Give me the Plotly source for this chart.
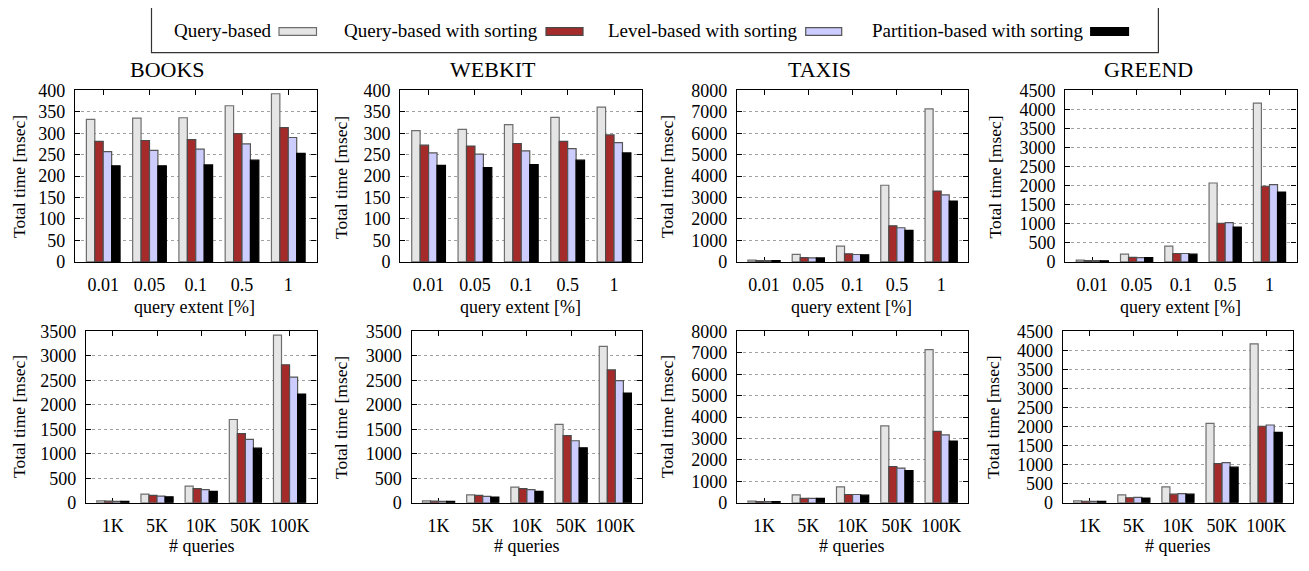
import plotly.graph_objects as go

W, H = 1293, 555  # figure size; page has an 8px body margin inside a 1309x571 window

series_names = ["Query-based", "Query-based with sorting", "Level-based with sorting", "Partition-based with sorting"]
extent_labels = ["0.01", "0.05", "0.1", "0.5", "1"]
queries_labels = ["1K", "5K", "10K", "50K", "100K"]
datasets = ["BOOKS", "WEBKIT", "TAXIS", "GREEND"]

# Top row: query extent [%]
books_extent = [[332, 335, 336, 364, 392], [281, 283, 285, 299, 313], [257, 260, 263, 275, 290], [224, 224, 226, 237, 253]]
webkit_extent = [[306, 309, 320, 337, 361], [272, 270, 276, 281, 296], [254, 251, 259, 264, 278], [225, 220, 227, 237, 254]]
taxis_extent = [[80, 350, 735, 3573, 7132], [60, 200, 375, 1681, 3303], [60, 190, 345, 1591, 3123], [55, 185, 330, 1471, 2838]]
greend_extent = [[45, 203, 414, 2069, 4162], [35, 118, 220, 1013, 1984], [35, 110, 220, 1030, 2026], [30, 110, 203, 912, 1832]]

# Bottom row: # queries
books_queries = [[40, 177, 341, 1701, 3421], [35, 151, 289, 1412, 2817], [30, 138, 269, 1294, 2567], [30, 125, 236, 1116, 2219]]
webkit_queries = [[40, 164, 322, 1602, 3191], [35, 151, 289, 1372, 2712], [30, 131, 269, 1267, 2495], [30, 118, 236, 1123, 2239]]
taxis_queries = [[80, 375, 750, 3588, 7147], [60, 210, 390, 1696, 3333], [60, 210, 390, 1621, 3168], [55, 210, 360, 1501, 2883]]
greend_queries = [[50, 211, 422, 2085, 4171], [42, 135, 228, 1030, 2009], [40, 143, 245, 1055, 2043], [40, 127, 228, 937, 1849]]

y_max_top = [400, 400, 8000, 4500]
y_dtick_top = [50, 50, 1000, 500]
y_max_bot = [3500, 3500, 8000, 4500]
y_dtick_bot = [500, 500, 1000, 500]

fills = ["#e5e5e5", "#a52a2a", "#ccccff", "#000000"]
outlines = ["#6e6e6e", "#4a4a4a", "#555555", "#000000"]

FONT = "Liberation Serif, Times New Roman, DejaVu Serif, serif"

# Plot areas in screenshot pixels (left, right), (top, bottom)
boxes_top = [(75, 316.5), (400.3, 642.3), (737, 968.2), (1065.3, 1296.5)]
boxes_bot = [(85.9, 316.5), (411.6, 642.3), (737, 968.2), (1062.8, 1293.1)]
top_y = (83, 261)
bot_y = (333, 511)

OFF = 8  # page body margin

fig = go.Figure()
layout = {}
annotations = []
shapes = []

def px_x(x):
    return (x - OFF) / W

def px_y(y):
    return 1 - (y - OFF) / H

panel_data = [
    (books_extent, webkit_extent, taxis_extent, greend_extent),
    (books_queries, webkit_queries, taxis_queries, greend_queries),
]

idx = 0
for row in range(2):
    cats = extent_labels if row == 0 else queries_labels
    boxes = boxes_top if row == 0 else boxes_bot
    yb = top_y if row == 0 else bot_y
    ymax = y_max_top if row == 0 else y_max_bot
    ydt = y_dtick_top if row == 0 else y_dtick_bot
    for col in range(4):
        idx += 1
        data = panel_data[row][col]
        xa = "x" if idx == 1 else f"x{idx}"
        ya = "y" if idx == 1 else f"y{idx}"
        for s in range(4):
            fig.add_trace(go.Bar(
                x=cats, y=data[s], name=series_names[s],
                marker=dict(color=fills[s], line=dict(color=outlines[s], width=1.2)),
                xaxis=xa, yaxis=ya, showlegend=False, offsetgroup=str(s),
            ))
        l, r = boxes[col]
        xkey = "xaxis" if idx == 1 else f"xaxis{idx}"
        ykey = "yaxis" if idx == 1 else f"yaxis{idx}"
        layout[xkey] = dict(
            domain=[px_x(l), px_x(r)], anchor=ya, type="category",
            range=[-0.61, 4.61], showline=True, linecolor="black", linewidth=1.3,
            mirror="ticks", ticks="inside", ticklen=5, tickcolor="black", tickwidth=1,
            showgrid=False, tickangle=0, layer="below traces",
            tickfont=dict(family=FONT, size=18, color="black"),
            ticklabelstandoff=6,
        )
        layout[ykey] = dict(
            domain=[px_y(yb[1]), px_y(yb[0])], anchor=xa,
            range=[0, ymax[col]], dtick=ydt[col], tick0=0,
            showline=True, linecolor="black", linewidth=1.3, mirror="ticks",
            ticks="inside", ticklen=5, tickcolor="black", tickwidth=1,
            showgrid=True, gridcolor="#a0a0a0", griddash="dot", gridwidth=1,
            tickfont=dict(family=FONT, size=18, color="black"),
            ticklabelstandoff=5, zeroline=False,
        )

# Subplot titles
title_x = [167, 493, 819, 1148]
for col in range(4):
    annotations.append(dict(text=datasets[col], x=px_x(title_x[col]), y=px_y(61), xref="paper", yref="paper",
                            showarrow=False, font=dict(family=FONT, size=22, color="black"),
                            xanchor="center", yanchor="middle"))

# Y-axis titles
ytitle_x_top = [None, 341, 667, 995.5]
ytitle_x_bot = [None, 341, 667, 992.6]
for col in range(4):
    for yc, xs in ((173, ytitle_x_top), (422, ytitle_x_bot)):
        if xs[col] is None:
            annotations.append(dict(text="Total time [msec]", x=px_x(8), y=px_y(yc), xref="paper", yref="paper",
                                    showarrow=False, textangle=-90, font=dict(family=FONT, size=17.5, color="black"),
                                    xanchor="left", yanchor="middle", borderpad=0))
        else:
            annotations.append(dict(text="Total time [msec]", x=px_x(xs[col]), y=px_y(yc), xref="paper", yref="paper",
                                    showarrow=False, textangle=-90, font=dict(family=FONT, size=17.5, color="black"),
                                    xanchor="center", yanchor="middle", borderpad=0))

# X-axis titles
xt_top = [194.4, 520.6, 851.8, 1180.5]
xt_bot = [201.2, 526, 851.8, 1177.5]
for col in range(4):
    annotations.append(dict(text="query extent [%]", x=px_x(xt_top[col]), y=px_y(308), xref="paper", yref="paper",
                            showarrow=False, font=dict(family=FONT, size=18, color="black"),
                            xanchor="center", yanchor="middle"))
    annotations.append(dict(text="# queries", x=px_x(xt_bot[col]), y=px_y(556), xref="paper", yref="paper",
                            showarrow=False, font=dict(family=FONT, size=18, color="black"),
                            xanchor="center", yanchor="middle"))

# Legend box (text followed by swatch, gnuplot style); its top edge lies above the page top
shapes.append(dict(type="rect", xref="paper", yref="paper", x0=px_x(151.5), x1=px_x(1158.4), y0=px_y(44), y1=1.1,
                   line=dict(color="#333333", width=1.2), fillcolor="rgba(0,0,0,0)"))
text_end = [274.4, 540, 799.4, 1085.6]
sw = [(279, 316.5), (546, 583), (805.7, 841.7), (1090.7, 1128.5)]
for s in range(4):
    annotations.append(dict(text=series_names[s], x=px_x(text_end[s]), y=px_y(21), xref="paper", yref="paper",
                            showarrow=False, font=dict(family=FONT, size=19, color="black"),
                            xanchor="right", yanchor="middle"))
    shapes.append(dict(type="rect", xref="paper", yref="paper", x0=px_x(sw[s][0]), x1=px_x(sw[s][1]),
                       y0=px_y(26), y1=px_y(18), fillcolor=fills[s], line=dict(color=outlines[s], width=1.2)))

fig.update_layout(
    width=W, height=H, margin=dict(l=0, r=0, t=0, b=0),
    paper_bgcolor="white", plot_bgcolor="white",
    barmode="group", bargap=0.272, bargroupgap=0,
    annotations=annotations, shapes=shapes, showlegend=False,
    font=dict(family=FONT, color="black"),
    **layout,
)

fig.write_html("out.html")
